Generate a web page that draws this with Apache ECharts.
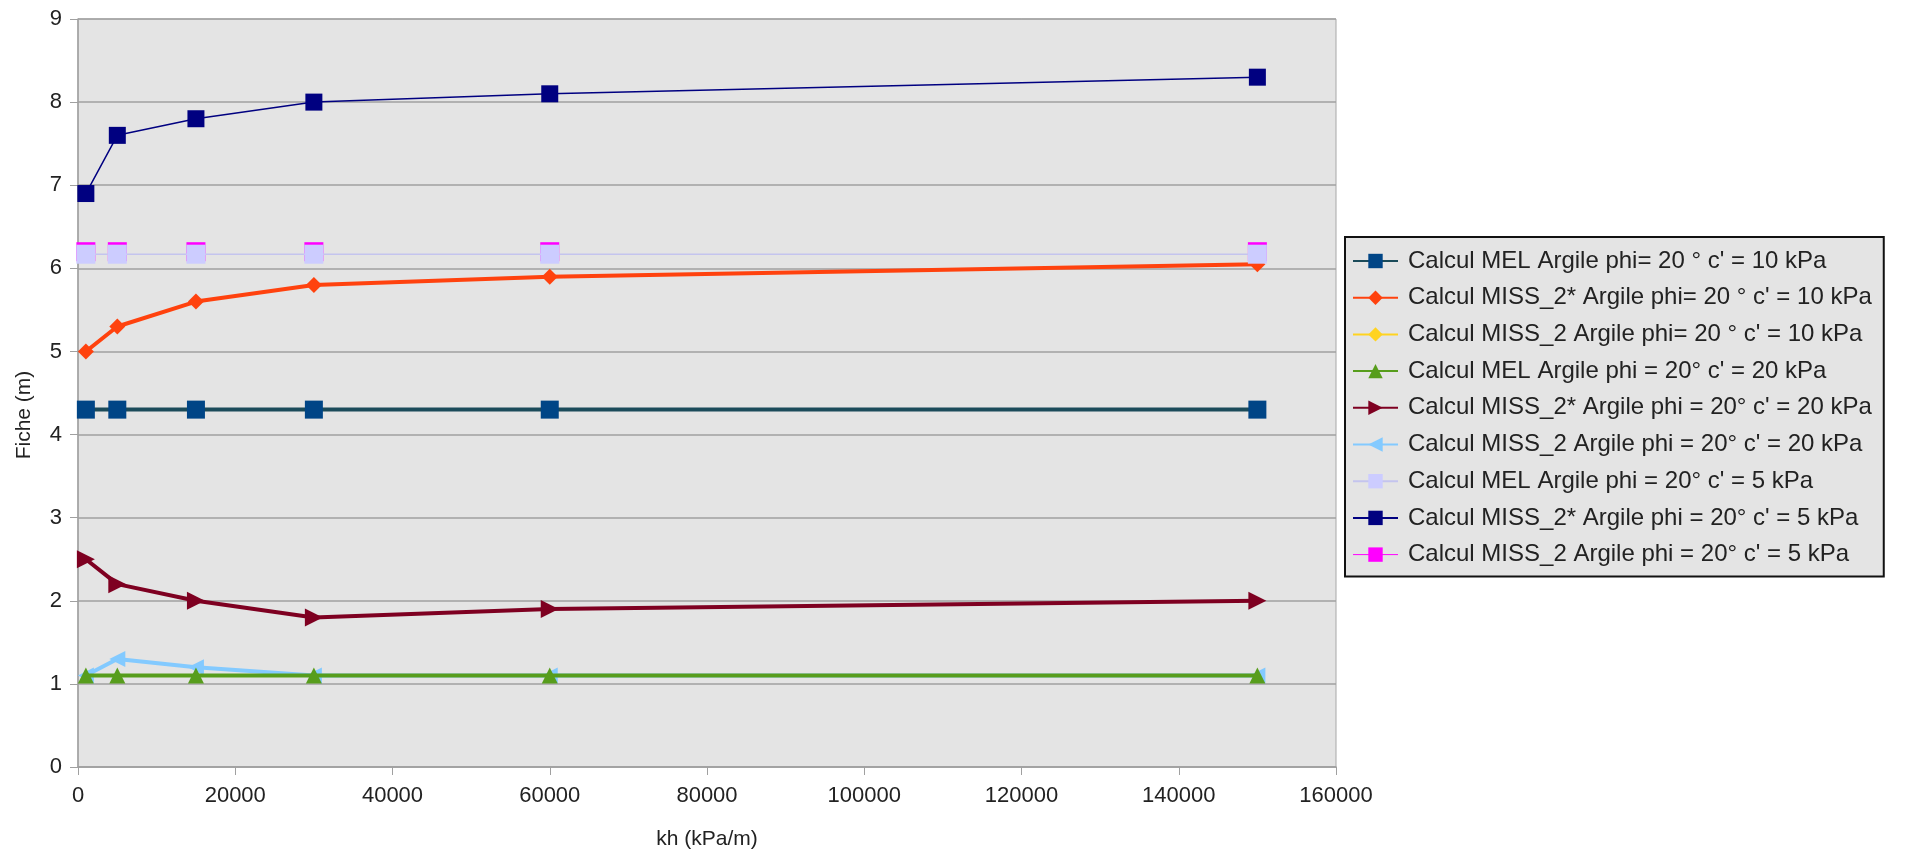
<!DOCTYPE html>
<html>
<head>
<meta charset="utf-8">
<script src="https://cdn.jsdelivr.net/npm/echarts@6/dist/echarts.min.js"></script>
<style>
html,body{margin:0;padding:0;background:#fff;}
#chart{width:1913px;height:855px;}
</style>
</head>
<body>
<div id="chart"></div>
<script>
const kh = [1000, 5000, 15000, 30000, 60000, 150000];
const seriesNames = [
  "Calcul MEL Argile phi= 20 ° c' = 10 kPa",
  "Calcul MISS_2* Argile phi= 20 ° c' = 10 kPa",
  "Calcul MISS_2 Argile phi= 20 ° c' = 10 kPa",
  "Calcul MEL Argile phi = 20° c' = 20 kPa",
  "Calcul MISS_2* Argile phi = 20° c' = 20 kPa",
  "Calcul MISS_2 Argile phi = 20° c' = 20 kPa",
  "Calcul MEL Argile phi = 20° c' = 5 kPa",
  "Calcul MISS_2* Argile phi = 20° c' = 5 kPa",
  "Calcul MISS_2 Argile phi = 20° c' = 5 kPa"
];
const melC10   = [4.3, 4.3, 4.3, 4.3, 4.3, 4.3];
const miss2sC10 = [5.0, 5.3, 5.6, 5.8, 5.9, 6.05];
const miss2C10 = [null, null, null, null, null, null];
const melC20   = [1.1, 1.1, 1.1, 1.1, 1.1, 1.1];
const miss2sC20 = [2.5, 2.2, 2.0, 1.8, 1.9, 2.0];
const miss2C20 = [1.1, 1.3, 1.2, 1.1, 1.1, 1.1];
const melC5    = [6.17, 6.17, 6.17, 6.17, 6.17, 6.17];
const miss2sC5 = [6.9, 7.6, 7.8, 8.0, 8.1, 8.3];
const miss2C5  = [6.2, 6.2, 6.2, 6.2, 6.2, 6.2];
const xTicks = [0, 20000, 40000, 60000, 80000, 100000, 120000, 140000, 160000];
const yTicks = [0, 1, 2, 3, 4, 5, 6, 7, 8, 9];

const pair = arr => kh.map((x, i) => [x, arr[i]]);
const FONT = 'Liberation Sans, Arial, sans-serif';

function mk(name, data, o) {
  return {
    name: name, type: 'line', data: pair(data),
    symbol: o.symbol, symbolSize: o.size, symbolRotate: o.rot || 0,
    showSymbol: true,
    itemStyle: { color: o.color },
    lineStyle: { color: o.lineColor || o.color, width: o.width, opacity: o.lineOpacity === undefined ? 1 : o.lineOpacity },
    z: o.z || 2,
    animation: false,
    emphasis: { disabled: true }
  };
}

const legendData = seriesNames.map((n, i) => {
  if (i === 8) return { name: n, lineStyle: { color: '#ff00ff', width: 1, opacity: 1 } };
  return { name: n };
});

const chart = echarts.init(document.getElementById('chart'));
chart.setOption({
  backgroundColor: '#ffffff',
  animation: false,
  grid: {
    left: 78, right: 577, top: 19, bottom: 86,
    show: true, backgroundColor: '#e4e4e4', borderColor: '#a8a8a8', borderWidth: 1
  },
  legend: {
    orient: 'vertical', left: 1345, top: 237,
    padding: [12, 12, 10, 7],
    backgroundColor: '#e4e4e4', borderColor: '#111', borderWidth: 2,
    itemWidth: 45, itemHeight: 18, itemGap: 12.7,
    textStyle: { fontFamily: FONT, fontSize: 24, color: '#222', lineHeight: 22, padding: [0, 0, 0, 5] },
    data: legendData
  },
  xAxis: {
    type: 'value', min: 0, max: 160000, interval: 20000,
    name: 'kh (kPa/m)', nameLocation: 'middle', nameGap: 62,
    nameTextStyle: { fontFamily: FONT, fontSize: 21, color: '#222' },
    axisLine: { show: true, lineStyle: { color: '#a0a0a0', width: 1.5 } },
    axisTick: { show: true, length: 8, inside: false, lineStyle: { color: '#a0a0a0' } },
    axisLabel: { fontFamily: FONT, fontSize: 22, color: '#222', margin: 18,
      formatter: v => xTicks.includes(v) ? String(v) : '' },
    splitLine: { show: false }
  },
  yAxis: {
    type: 'value', min: 0, max: 9, interval: 1,
    name: 'Fiche (m)', nameLocation: 'middle', nameGap: 43,
    nameTextStyle: { fontFamily: FONT, fontSize: 21, color: '#222', padding: [0, 44, 0, 0] },
    axisLine: { show: true, lineStyle: { color: '#a0a0a0', width: 1.5 } },
    axisTick: { show: true, length: 8, inside: false, lineStyle: { color: '#a0a0a0' } },
    axisLabel: { fontFamily: FONT, fontSize: 22, color: '#222', margin: 16,
      formatter: v => yTicks.includes(v) ? String(v) : '' },
    splitLine: { show: true, lineStyle: { color: '#a0a0a0', width: 1.5 } }
  },
  series: [
    mk(seriesNames[0], melC10,   { symbol: 'rect', size: 18, color: '#004586', lineColor: '#1b4b5a', width: 4 }),
    mk(seriesNames[1], miss2sC10, { symbol: 'diamond', size: 16, color: '#ff420e', width: 4 }),
    mk(seriesNames[2], miss2C10, { symbol: 'diamond', size: 16, color: '#ffd320', width: 4 }),
    mk(seriesNames[3], melC20,   { symbol: 'triangle', size: 16, color: '#579d1c', width: 4, z: 3 }),
    mk(seriesNames[4], miss2sC20, { symbol: 'triangle', size: 18, rot: -90, color: '#7e0021', width: 4 }),
    mk(seriesNames[5], miss2C20, { symbol: 'triangle', size: 16, rot: 90, color: '#83caff', width: 4 }),
    mk(seriesNames[6], melC5,    { symbol: 'rect', size: 19, color: '#ccccff', lineColor: '#c4c4ee', width: 1.5, z: 3 }),
    mk(seriesNames[7], miss2sC5, { symbol: 'rect', size: 17, color: '#000080', width: 1.5 }),
    mk(seriesNames[8], miss2C5,  { symbol: 'rect', size: 19, color: '#ff00ff', width: 1, z: 1, lineOpacity: 0 })
  ]
});
</script>
</body>
</html>
